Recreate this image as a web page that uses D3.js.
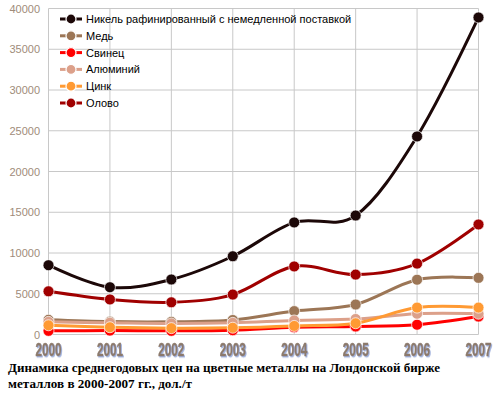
<!DOCTYPE html>
<html>
<head>
<meta charset="utf-8">
<script src="https://cdn.jsdelivr.net/npm/d3@7"></script>
<style>
  body { margin: 0; background: #fff; }
  svg { display: block; }
</style>
</head>
<body>
<div id="chart"></div>
<script>
// данные
const years = [2000, 2001, 2002, 2003, 2004, 2005, 2006, 2007];
const nickel = [8500, 5800, 6750, 9600, 13750, 14600, 24300, 38900];
const copper = [1800, 1580, 1560, 1780, 2870, 3680, 6720, 6950];
const lead = [450, 480, 450, 520, 890, 980, 1200, 2200];
const aluminium = [1550, 1440, 1350, 1430, 1720, 1900, 2550, 2550];
const zinc = [1130, 890, 780, 830, 1050, 1380, 3300, 3300];
const tin = [5300, 4300, 3950, 4900, 8350, 7350, 8700, 13500];
const yTicks = [0, 5000, 10000, 15000, 20000, 25000, 30000, 35000, 40000];
const seriesNames = ["Никель рафинированный с немедленной поставкой", "Медь", "Свинец", "Алюминий", "Цинк", "Олово"];
const seriesColors = ["#1c0808", "#9c7656", "#ff0000", "#dca08a", "#ff9a33", "#a00000"];
const titleLines = ["Динамика среднегодовых цен на цветные металлы на Лондонской бирже", "металлов в 2000-2007 гг., дол./т"];

const series = [nickel, copper, lead, aluminium, zinc, tin].map((v, i) => ({
    name: seriesNames[i], color: seriesColors[i], values: v
}));

const W = 499, H = 394;
const svg = d3.select("#chart").append("svg").attr("width", W).attr("height", H);

// тень для подписей оси X
const defs = svg.append("defs");
defs.append("filter").attr("id", "shadow")
    .attr("x", "-20%").attr("y", "-20%").attr("width", "140%").attr("height", "140%")
    .append("feDropShadow")
    .attr("dx", 1).attr("dy", 1).attr("stdDeviation", 0.3)
    .attr("flood-color", "#9fb0dc").attr("flood-opacity", 1);

const x = d3.scaleLinear().domain([2000, 2007]).range([48.5, 478.5]);
const y = d3.scaleLinear().domain([0, 40000]).range([334.5, 8.5]);

// сетка
const grid = svg.append("g");
grid.selectAll(".h").data(yTicks).enter().append("line")
    .attr("x1", x(2000)).attr("x2", x(2007))
    .attr("y1", d => y(d)).attr("y2", d => y(d))
    .attr("stroke", "#c8c8c8").attr("stroke-width", 1);
grid.selectAll(".v").data(years).enter().append("line")
    .attr("x1", d => x(d)).attr("x2", d => x(d))
    .attr("y1", y(0)).attr("y2", y(40000))
    .attr("stroke", "#c8c8c8").attr("stroke-width", 1);

// подписи оси Y
svg.append("g").selectAll("text").data(yTicks).enter().append("text")
    .attr("x", 40).attr("y", d => y(d) + 4)
    .attr("text-anchor", "end")
    .style("font-family", "Arial, 'Liberation Sans', sans-serif")
    .style("font-size", "11px")
    .style("fill", "#a08c7a")
    .text(d => d);

// подписи оси X
svg.append("g").selectAll("text").data(years).enter().append("text")
    .attr("transform", d => `translate(${x(d)},356) scale(1,1.3)`)
    .attr("text-anchor", "middle")
    .attr("textLength", 26).attr("lengthAdjust", "spacingAndGlyphs")
    .attr("filter", "url(#shadow)")
    .style("font-family", "'Liberation Sans Narrow', 'Arial Narrow', sans-serif")
    .style("font-weight", "bold")
    .style("font-size", "14.5px")
    .style("fill", "#8c7a6c")
    .style("stroke", "#8c7a6c")
    .style("stroke-width", 0.4)
    .text(d => d);

// линии
const line = d3.line()
    .x((d, i) => x(years[i]))
    .y(d => y(d))
    .curve(d3.curveCardinal.tension(0));

const lines = svg.append("g");
series.forEach(s => {
    const g = lines.append("g");
    g.append("path")
        .attr("d", line(s.values))
        .attr("fill", "none")
        .attr("stroke", s.color)
        .attr("stroke-width", 3)
        .attr("stroke-linejoin", "round");
    g.selectAll("circle").data(s.values).enter().append("circle")
        .attr("cx", (d, i) => x(years[i]))
        .attr("cy", d => y(d))
        .attr("r", 5.5)
        .attr("fill", s.color)
        .attr("stroke", "#fff")
        .attr("stroke-opacity", 0.7)
        .attr("stroke-width", 1);
});

// легенда
const legend = svg.append("g");
series.forEach((s, i) => {
    const ly = 19 + i * 16.8;
    const g = legend.append("g").attr("transform", `translate(0,${ly})`);
    g.append("line").attr("x1", 60).attr("x2", 82).attr("y1", 0).attr("y2", 0)
        .attr("stroke", s.color).attr("stroke-width", 3);
    g.append("circle").attr("cx", 71).attr("cy", 0).attr("r", 5)
        .attr("fill", s.color).attr("stroke", "#fff").attr("stroke-width", 1.2);
    g.append("text").attr("x", 86).attr("y", 4)
        .style("font-family", "Arial, 'Liberation Sans', sans-serif")
        .style("font-size", "11px")
        .style("fill", "#000")
        .text(s.name);
});

// заголовок
const tl = svg.append("g");
tl.selectAll("text").data(titleLines).enter().append("text")
    .attr("x", 8).attr("y", (d, i) => 372 + i * 15.5)
    .attr("textLength", (d, i) => i === 0 ? 432 : 184)
    .attr("lengthAdjust", "spacingAndGlyphs")
    .style("font-family", "'Liberation Serif', 'Times New Roman', serif")
    .style("font-weight", "bold")
    .style("font-size", "13px")
    .style("fill", "#000")
    .text(d => d);
</script>
</body>
</html>
